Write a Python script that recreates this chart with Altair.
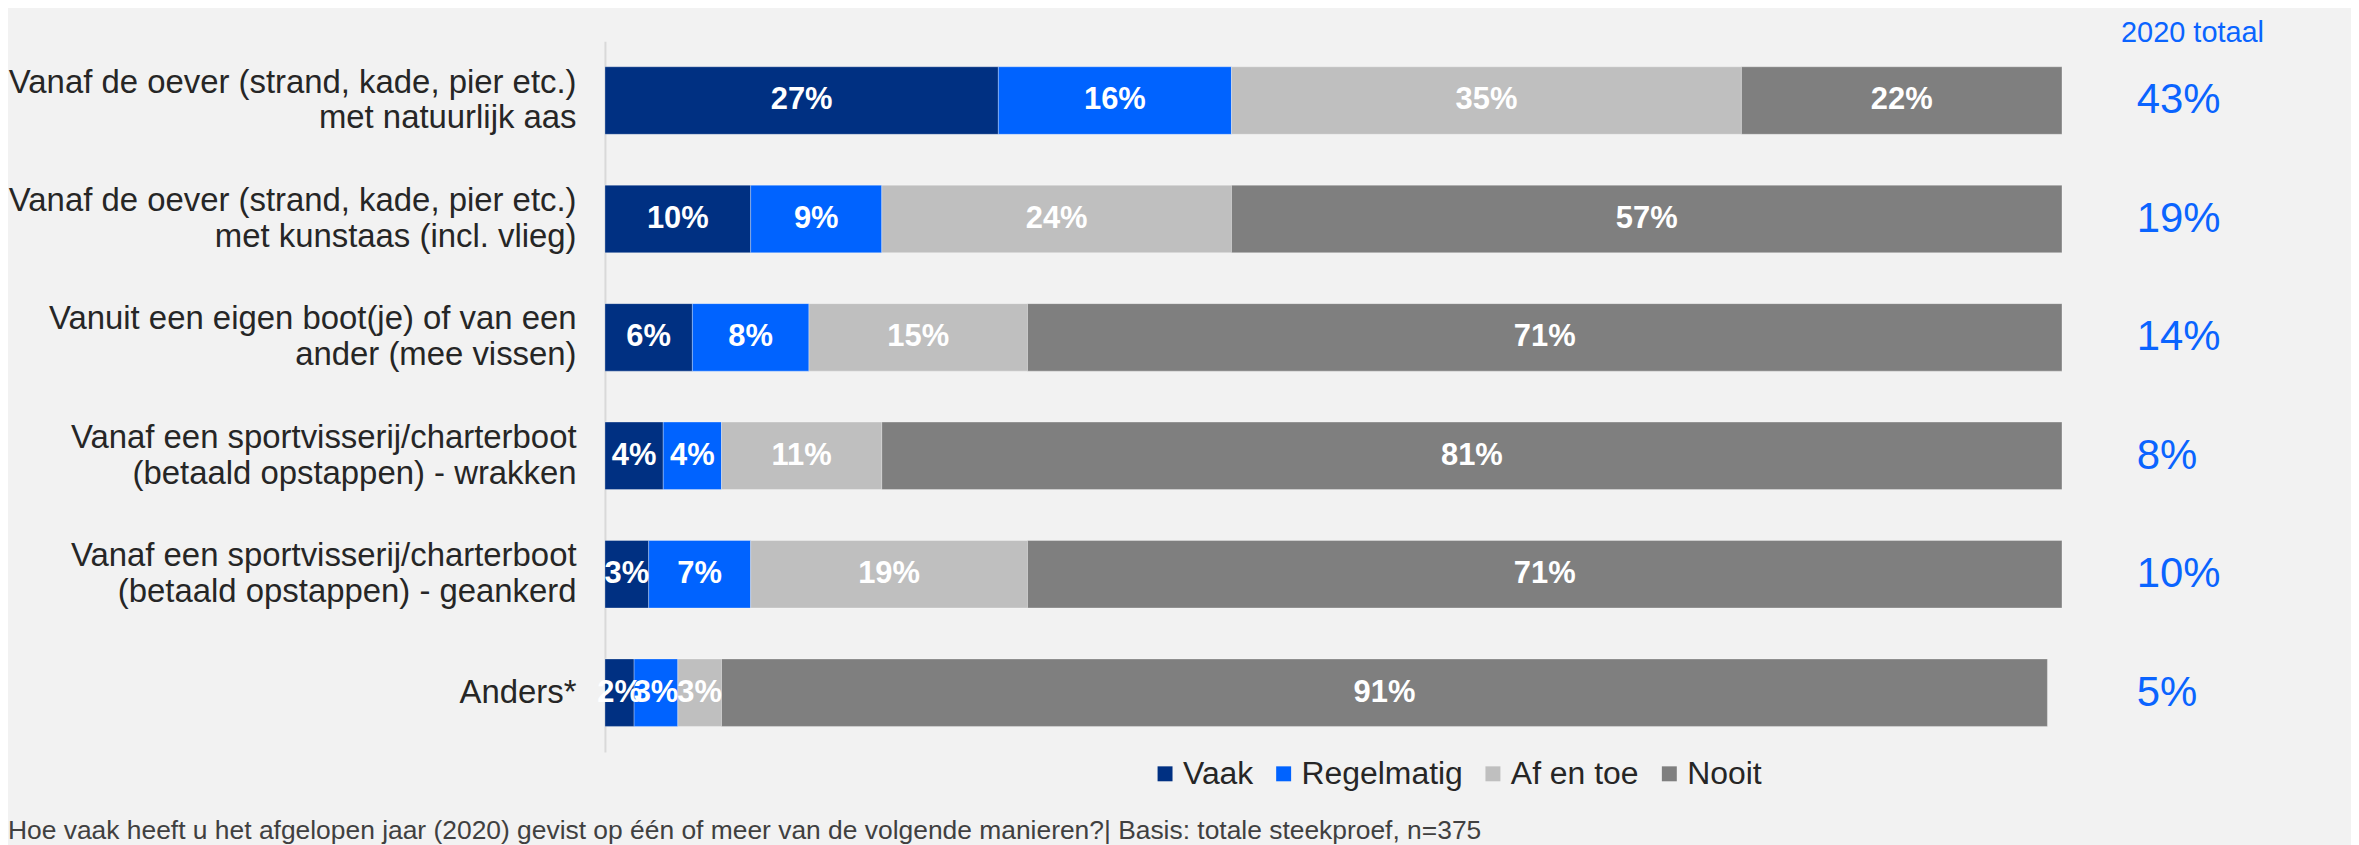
import altair as alt
import pandas as pd

categories = [
    "Vanaf de oever (strand, kade, pier etc.)\nmet natuurlijk aas",
    "Vanaf de oever (strand, kade, pier etc.)\nmet kunstaas (incl. vlieg)",
    "Vanuit een eigen boot(je) of van een\nander (mee vissen)",
    "Vanaf een sportvisserij/charterboot\n(betaald opstappen) - wrakken",
    "Vanaf een sportvisserij/charterboot\n(betaald opstappen) - geankerd",
    "Anders*",
]
series = ["Vaak", "Regelmatig", "Af en toe", "Nooit"]
vaak = [27, 10, 6, 4, 3, 2]
regelmatig = [16, 9, 8, 4, 7, 3]
af_en_toe = [35, 24, 15, 11, 19, 3]
nooit = [22, 57, 71, 81, 71, 91]
totaal_2020 = [43, 19, 14, 8, 10, 5]
header = "2020 totaal"
footnote = ("Hoe vaak heeft u het afgelopen jaar (2020) gevist op één of meer van de "
            "volgende manieren?| Basis: totale steekproef, n=375")
colors = ["#003082", "#0063ff", "#bfbfbf", "#7f7f7f"]

FONT = "Liberation Sans"

rows = []
for i, c in enumerate(categories):
    for j, (s, vals) in enumerate(zip(series, [vaak, regelmatig, af_en_toe, nooit])):
        rows.append({"categorie": c, "reeks": s, "waarde": vals[i], "volgorde": j})
df = pd.DataFrame(rows)
tot = pd.DataFrame({"categorie": categories, "totaal": [f"{v}%" for v in totaal_2020]})

xscale = alt.Scale(domain=[0, 100], nice=False, zero=True)
yscale = alt.Scale(paddingInner=0.43, paddingOuter=0.215)

y_axis = alt.Axis(
    title=None,
    labelExpr="split(datum.label, '\\n')",
    labelFontSize=33,
    labelFont=FONT,
    labelColor="#262626",
    labelPadding=29,
    labelLimit=800,
    labelLineHeight=36,
    labelBaseline=alt.condition(
        "indexof(datum.value, '\\n') < 0", alt.value("middle"), alt.value("line-bottom")
    ),
    ticks=False,
    domain=True,
    domainColor="#d9d9d9",
    domainWidth=2,
    grid=False,
)

bars = alt.Chart(df).mark_bar(stroke="#ffffff", strokeWidth=1, strokeOpacity=0.3).encode(
    x=alt.X("waarde:Q", stack="zero", scale=xscale, axis=None),
    y=alt.Y("categorie:N", sort=categories, scale=yscale, axis=y_axis),
    color=alt.Color(
        "reeks:N",
        sort=series,
        scale=alt.Scale(domain=series, range=colors),
        legend=alt.Legend(
            title=None,
            orient="none",
            legendX=546,
            legendY=719,
            direction="horizontal",
            symbolType="square",
            symbolSize=225,
            symbolStrokeWidth=0,
            labelFontSize=32,
            labelFont=FONT,
            labelColor="#262626",
            labelLimit=400,
            columnPadding=14,
            labelOffset=2,
        ),
    ),
    order=alt.Order("volgorde:Q"),
)

labels = (
    alt.Chart(df)
    .transform_stack(
        stack="waarde",
        groupby=["categorie"],
        as_=["x0", "x1"],
        sort=[alt.SortField("volgorde", order="ascending")],
    )
    .transform_calculate(xm="(datum.x0 + datum.x1) / 2", lab="datum.waarde + '%'")
    .mark_text(font=FONT, fontWeight="bold", fontSize=31, color="white",
               align="center", baseline="middle")
    .encode(
        x=alt.X("xm:Q", scale=xscale, axis=None),
        y=alt.Y("categorie:N", sort=categories, scale=yscale, axis=y_axis),
        text="lab:N",
    )
)

totals = alt.Chart(tot).mark_text(
    font=FONT, fontSize=42, color="#0a64ff", align="left", baseline="middle"
).encode(
    x=alt.value(1537),
    y=alt.Y("categorie:N", sort=categories, scale=yscale, axis=y_axis),
    text="totaal:N",
)

head = alt.Chart(pd.DataFrame({"t": [header]})).mark_text(
    font=FONT, fontSize=29, color="#0a64ff", align="center", baseline="middle"
).encode(x=alt.value(1593), y=alt.value(-8), text="t:N")

foot = alt.Chart(pd.DataFrame({"t": [footnote]})).mark_text(
    font=FONT, fontSize=26.5, color="#404040", align="left", baseline="alphabetic"
).encode(x=alt.value(-599), y=alt.value(800), text="t:N")

chart = (
    alt.layer(bars, labels, totals, head, foot)
    .properties(
        width=1462,
        height=713,
        autosize=alt.AutoSizeParams(type="none"),
        padding={"left": 599, "top": 32, "right": 290, "bottom": 92},
        background="#f2f2f2",
    )
    .configure_view(stroke=None)
)

chart.save("out.html", embed_options={"renderer": "svg", "actions": False})
